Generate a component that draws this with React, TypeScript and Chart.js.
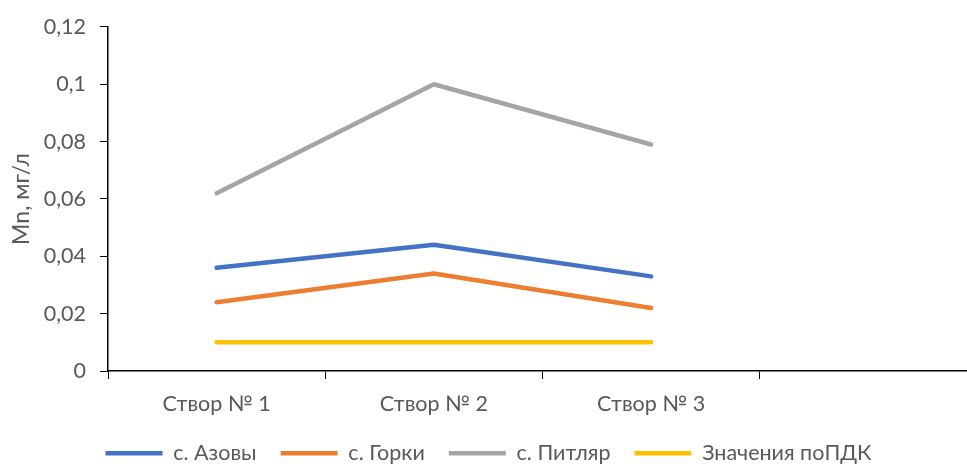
import React, { useEffect, useRef } from "react";
import { Chart, registerables } from "chart.js";

Chart.register(...registerables);

const categories = ["Створ № 1", "Створ № 2", "Створ № 3", ""];
const azovy = [0.036, 0.044, 0.033, null];
const gorki = [0.024, 0.034, 0.022, null];
const pitlyar = [0.062, 0.1, 0.079, null];
const pdk = [0.01, 0.01, 0.01, null];
const seriesNames = ["с. Азовы", "с. Горки", "с. Питляр", "Значения поПДК"];
const seriesColors = ["#4472C4", "#ED7D31", "#A5A5A5", "#FFC000"];
const yTickLabels = ["0", "0,02", "0,04", "0,06", "0,08", "0,1", "0,12"];
const yTitle = "Mn, мг/л";

const FONT = "Lato, 'Liberation Sans', sans-serif";

export default function App() {
  const ref = useRef<HTMLCanvasElement | null>(null);
  useEffect(() => {
    if (!ref.current) return;
    const values = [azovy, gorki, pitlyar, pdk];
    const chart = new Chart(ref.current, {
      type: "line",
      data: {
        labels: categories,
        datasets: values.map((v, i) => ({
          label: seriesNames[i],
          data: v,
          borderColor: seriesColors[i],
          backgroundColor: seriesColors[i],
          borderWidth: 4.5,
          pointRadius: 0,
          pointHoverRadius: 0,
          borderCapStyle: "round" as const,
          borderJoinStyle: "round" as const,
          tension: 0,
        })),
      },
      options: {
        animation: false,
        responsive: false,
        maintainAspectRatio: false,
        layout: { padding: { top: 24, right: 13, left: 0, bottom: 0 } },
        plugins: {
          tooltip: { enabled: false },
          legend: {
            position: "bottom",
            labels: {
              usePointStyle: true,
              pointStyle: "line",
              pointStyleWidth: 57,
              boxWidth: 57,
              padding: 24,
              color: "#595959",
              font: { family: FONT, size: 21.5 },
            },
          },
        },
        scales: {
          x: {
            offset: true,
            grid: {
              display: true,
              offset: true,
              drawOnChartArea: false,
              tickLength: 8,
              color: "#000",
            },
            border: { display: true, color: "#000", width: 1.5 },
            ticks: {
              color: "#595959",
              font: { family: FONT, size: 21.5 },
              padding: 12,
              maxRotation: 0,
            },
            afterFit: (s: any) => {
              s.height = 47.5;
            },
          },
          y: {
            min: 0,
            max: 0.12,
            grid: {
              display: true,
              drawOnChartArea: false,
              tickLength: 8,
              color: "#000",
            },
            border: { display: true, color: "#000", width: 1.5 },
            ticks: {
              stepSize: 0.02,
              color: "#595959",
              font: { family: FONT, size: 21.5 },
              padding: 14,
              callback: (_v: any, idx: number) => yTickLabels[idx],
            },
            title: {
              display: true,
              text: yTitle,
              color: "#595959",
              font: { family: FONT, size: 23, weight: "normal" },
              padding: { top: 8, bottom: 0 },
            },
            afterFit: (s: any) => {
              s.width = 108;
            },
          },
        },
      },
    });
    return () => chart.destroy();
  }, []);
  return (
    <div
      style={{
        position: "fixed",
        left: 0,
        top: 0,
        width: 967,
        height: 464,
        overflow: "hidden",
        background: "#fff",
      }}
    >
      <canvas ref={ref} width={990} height={474} style={{ width: 990, height: 474, display: "block" }} />
    </div>
  );
}
